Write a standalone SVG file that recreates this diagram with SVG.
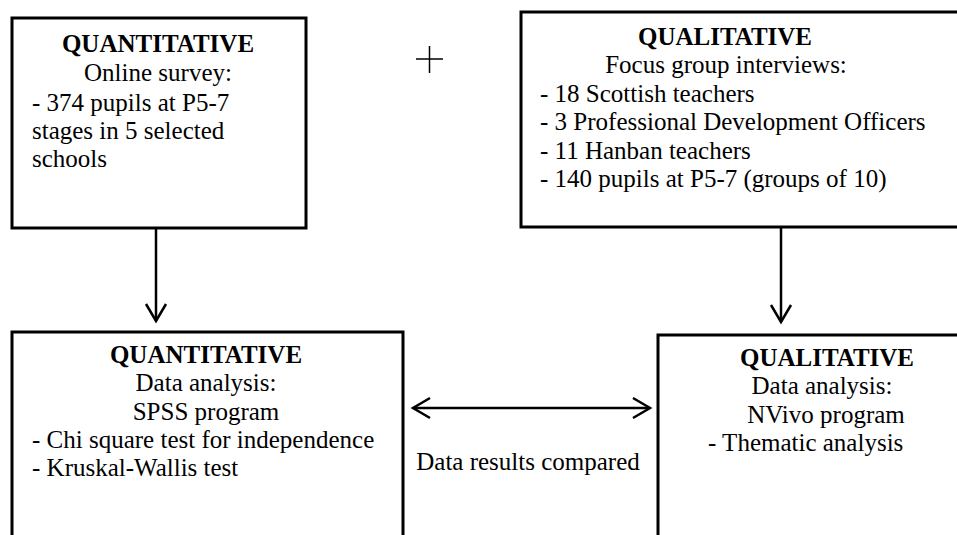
<svg xmlns="http://www.w3.org/2000/svg" width="957" height="535" viewBox="0 0 957 535">
<style>
.box{fill:#fff;stroke:#000;stroke-width:3}
text{font-family:"Liberation Serif","Times New Roman",serif;font-size:25px;fill:#000}
.b{font-weight:bold}
.c{text-anchor:middle}
.conn{stroke:#000;stroke-width:2.5;fill:none}
</style>
<defs>
<marker id="ah" markerUnits="userSpaceOnUse" viewBox="-20 -12 24 24" refX="0" refY="0" markerWidth="24" markerHeight="24" orient="auto-start-reverse">
<path d="M-17,-10 L0,0 L-17,10" fill="none" stroke="#000" stroke-width="2.5"/>
</marker>
</defs>
<rect width="957" height="535" fill="#fff"/>
<g id="quant-survey">
<rect class="box" x="12" y="18" width="294" height="210"/>
<text class="b c" x="158" y="52">QUANTITATIVE</text>
<text class="c" x="158" y="81">Online survey:</text>
<text x="32" y="111">- 374 pupils at P5-7</text>
<text x="32" y="139">stages in 5 selected</text>
<text x="32" y="167">schools</text>
</g>
<g id="qual-interviews">
<rect class="box" x="521" y="12" width="450" height="215"/>
<text class="b c" x="725" y="45">QUALITATIVE</text>
<text class="c" x="726" y="73">Focus group interviews:</text>
<text x="540" y="102">- 18 Scottish teachers</text>
<text x="540" y="130">- 3 Professional Development Officers</text>
<text x="540" y="159">- 11 Hanban teachers</text>
<text x="540" y="187">- 140 pupils at P5-7 (groups of 10)</text>
</g>
<g id="plus">
<path d="M416,59 H443 M429.5,46 V73" stroke="#000" stroke-width="1.5" fill="none"/>
</g>
<g id="quant-analysis">
<rect class="box" x="12" y="332" width="391" height="230"/>
<text class="b c" x="206" y="363">QUANTITATIVE</text>
<text class="c" x="206" y="391">Data analysis:</text>
<text class="c" x="206" y="420">SPSS program</text>
<text x="32" y="448">- Chi square test for independence</text>
<text x="32" y="476">- Kruskal-Wallis test</text>
</g>
<g id="qual-analysis">
<rect class="box" x="658" y="335" width="320" height="230"/>
<text class="b c" x="827" y="366">QUALITATIVE</text>
<text class="c" x="822" y="394">Data analysis:</text>
<text class="c" x="826" y="423">NVivo program</text>
<text x="708" y="451">- Thematic analysis</text>
</g>
<g id="connectors">
<line class="conn" x1="156" y1="229" x2="156" y2="321" marker-end="url(#ah)"/>
<line class="conn" x1="781" y1="228" x2="781" y2="322" marker-end="url(#ah)"/>
<line class="conn" x1="413" y1="408" x2="650" y2="408" marker-start="url(#ah)" marker-end="url(#ah)"/>
<text class="c" x="528" y="470">Data results compared</text>
</g>
</svg>
